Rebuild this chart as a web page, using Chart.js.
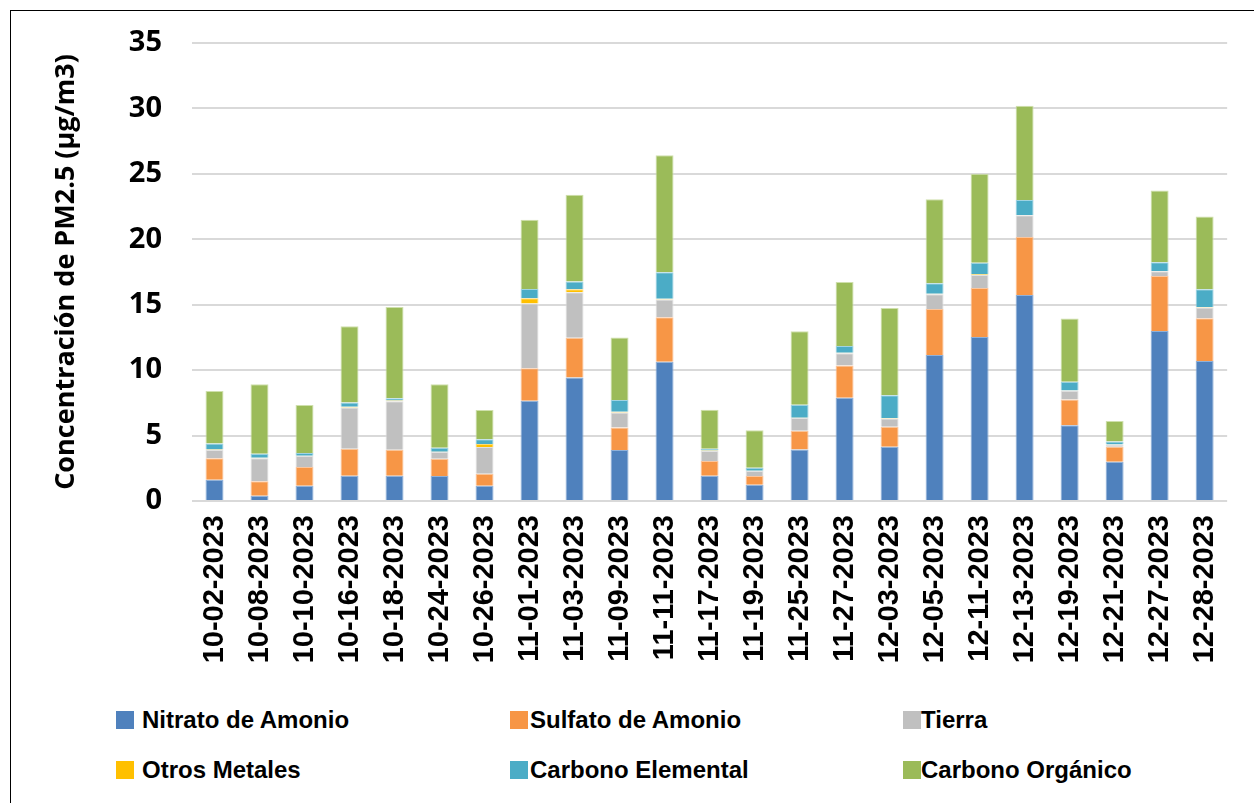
<!DOCTYPE html>
<html lang="es">
<head>
<meta charset="utf-8">
<title>PM2.5</title>
<script src="https://cdn.jsdelivr.net/npm/chart.js@4.4.0/dist/chart.umd.min.js"></script>
<style>
    html, body { margin: 0; padding: 0; background: #fff; }
    body { width: 1254px; height: 803px; position: relative; overflow: hidden; }
    .frame { position: absolute; left: 10px; top: 10px; width: 1400px; height: 900px;
             border-left: 1px solid #000; border-top: 1px solid #000; }
    .chart-box { position: absolute; left: 0; top: 0; width: 1254px; height: 690px; }
    .legend { position: absolute; left: 0; top: 0; width: 1254px; }
    .legend-item { position: absolute; display: flex; align-items: center; height: 30px;
                   font: bold 24px "Liberation Sans", Arial, sans-serif; color: #000; white-space: nowrap; }
    .legend-swatch { width: 18px; height: 18px; margin-right: 8px; }
</style>
</head>
<body>
<div class="frame"></div>
<div class="chart-box"><canvas id="pmChart"></canvas></div>
<div class="legend" id="pmLegend"></div>

<script>
const dates = ['10-02-2023', '10-08-2023', '10-10-2023', '10-16-2023', '10-18-2023', '10-24-2023',
    '10-26-2023', '11-01-2023', '11-03-2023', '11-09-2023', '11-11-2023', '11-17-2023',
    '11-19-2023', '11-25-2023', '11-27-2023', '12-03-2023', '12-05-2023', '12-11-2023',
    '12-13-2023', '12-19-2023', '12-21-2023', '12-27-2023', '12-28-2023'];

const nitratoAmonio = [1.63, 0.41, 1.17, 1.93, 1.93, 1.91, 1.17, 7.66, 9.44, 3.89, 10.64, 1.93,
    1.25, 3.94, 7.89, 4.15, 11.15, 12.54, 15.75, 5.78, 3.0, 13.0, 10.69];
const sulfatoAmonio = [1.63, 1.09, 1.43, 2.06, 1.99, 1.32, 0.92, 2.49, 3.03, 1.73, 3.41, 1.12,
    0.66, 1.43, 2.47, 1.52, 3.53, 3.74, 4.43, 1.98, 1.15, 4.2, 3.28];
const tierra = [0.63, 1.76, 0.83, 3.16, 3.71, 0.51, 2.03, 4.94, 3.48, 1.15, 1.35, 0.77,
    0.38, 0.97, 0.94, 0.64, 1.12, 1.0, 1.65, 0.66, 0.15, 0.36, 0.82];
const otrosMetales = [0.05, 0.05, 0.03, 0.05, 0.05, 0.03, 0.23, 0.41, 0.23, 0.05, 0.05, 0.03,
    0.02, 0.03, 0.03, 0.03, 0.03, 0.05, 0.03, 0.02, 0.02, 0.02, 0.03];
const carbonoElemental = [0.46, 0.3, 0.2, 0.33, 0.18, 0.3, 0.36, 0.71, 0.59, 0.9, 2.04, 0.14,
    0.24, 0.98, 0.52, 1.74, 0.81, 0.88, 1.14, 0.68, 0.22, 0.67, 1.36];
const carbonoOrganico = [4.0, 5.32, 3.67, 5.83, 6.97, 4.86, 2.24, 5.29, 6.64, 4.78, 8.93, 2.98,
    2.85, 5.62, 4.89, 6.67, 6.41, 6.79, 7.2, 4.83, 1.57, 5.47, 5.57];

const yTicks = [0, 5, 10, 15, 20, 25, 30, 35];

const pmChart = {
    chart: null,

    init: function() {
        const series = [
            { label: 'Nitrato de Amonio', data: nitratoAmonio, color: '#4F81BD', edge: '#8fb0d8' },
            { label: 'Sulfato de Amonio', data: sulfatoAmonio, color: '#F79646', edge: '#fbc59c' },
            { label: 'Tierra', data: tierra, color: '#C0C0C0', edge: '#e2e2e2' },
            { label: 'Otros Metales', data: otrosMetales, color: '#FFC000', edge: '#ffdc73' },
            { label: 'Carbono Elemental', data: carbonoElemental, color: '#4BACC6', edge: '#9fd3e2' },
            { label: 'Carbono Orgánico', data: carbonoOrganico, color: '#9BBB59', edge: '#cfe0ac' }
        ];

        const ctx = document.getElementById('pmChart').getContext('2d');
        this.chart = new Chart(ctx, {
            type: 'bar',
            data: {
                labels: dates,
                datasets: series.map(s => ({
                    label: s.label,
                    data: s.data,
                    backgroundColor: s.color,
                    borderColor: s.edge,
                    borderWidth: 1,
                    categoryPercentage: 1,
                    barPercentage: 0.4
                }))
            },
            options: {
                responsive: true,
                maintainAspectRatio: false,
                animation: false,
                layout: { padding: { left: 0, top: 43, right: 26, bottom: 0 } },
                plugins: {
                    legend: { display: false },
                    tooltip: { enabled: false }
                },
                scales: {
                    x: {
                        stacked: true,
                        grid: { display: false, drawTicks: false },
                        border: { display: false },
                        ticks: {
                            color: '#000',
                            minRotation: 90,
                            maxRotation: 90,
                            padding: 14,
                            autoSkip: false,
                            font: { family: '"Liberation Sans", Arial, sans-serif', size: 29, weight: 'bold' }
                        },
                        afterFit: scale => { scale.height = 189; }
                    },
                    y: {
                        stacked: true,
                        min: 0,
                        max: 35,
                        afterBuildTicks: scale => { scale.ticks = yTicks.map(v => ({ value: v })); },
                        grid: { color: '#d9d9d9', lineWidth: 2, drawTicks: false },
                        border: { display: false },
                        ticks: {
                            color: '#000',
                            padding: 30,
                            font: { family: '"Open Sans", sans-serif', size: 29, weight: 'bold' }
                        },
                        title: {
                            display: true,
                            text: 'Concentración de PM2.5 (µg/m3)',
                            color: '#000',
                            padding: { top: 50, bottom: 0 },
                            font: { family: '"Open Sans", sans-serif', size: 27, weight: 'bold' }
                        },
                        afterFit: scale => {
                            scale.width = 192;
                            // tick padding should not push the plot top down
                            scale.paddingTop = 0;
                            scale.paddingBottom = 0;
                        }
                    }
                }
            }
        });

        this.renderLegend(series);
    },

    renderLegend: function(series) {
        // Excel-like 3 column legend under the plot
        const box = document.getElementById('pmLegend');
        const colLeft = [116, 510, 903];
        const gaps = [8, 2, 0];
        const rowTop = [705, 755];
        series.forEach((s, i) => {
            const col = i % 3;
            const row = Math.floor(i / 3);
            const item = document.createElement('div');
            item.className = 'legend-item';
            item.style.left = colLeft[col] + 'px';
            item.style.top = rowTop[row] + 'px';
            item.innerHTML = `<span class="legend-swatch" style="background:${s.color};margin-right:${gaps[col]}px"></span><span>${s.label}</span>`;
            box.appendChild(item);
        });
    }
};

document.addEventListener('DOMContentLoaded', () => {
    pmChart.init();
});
</script>
</body>
</html>
